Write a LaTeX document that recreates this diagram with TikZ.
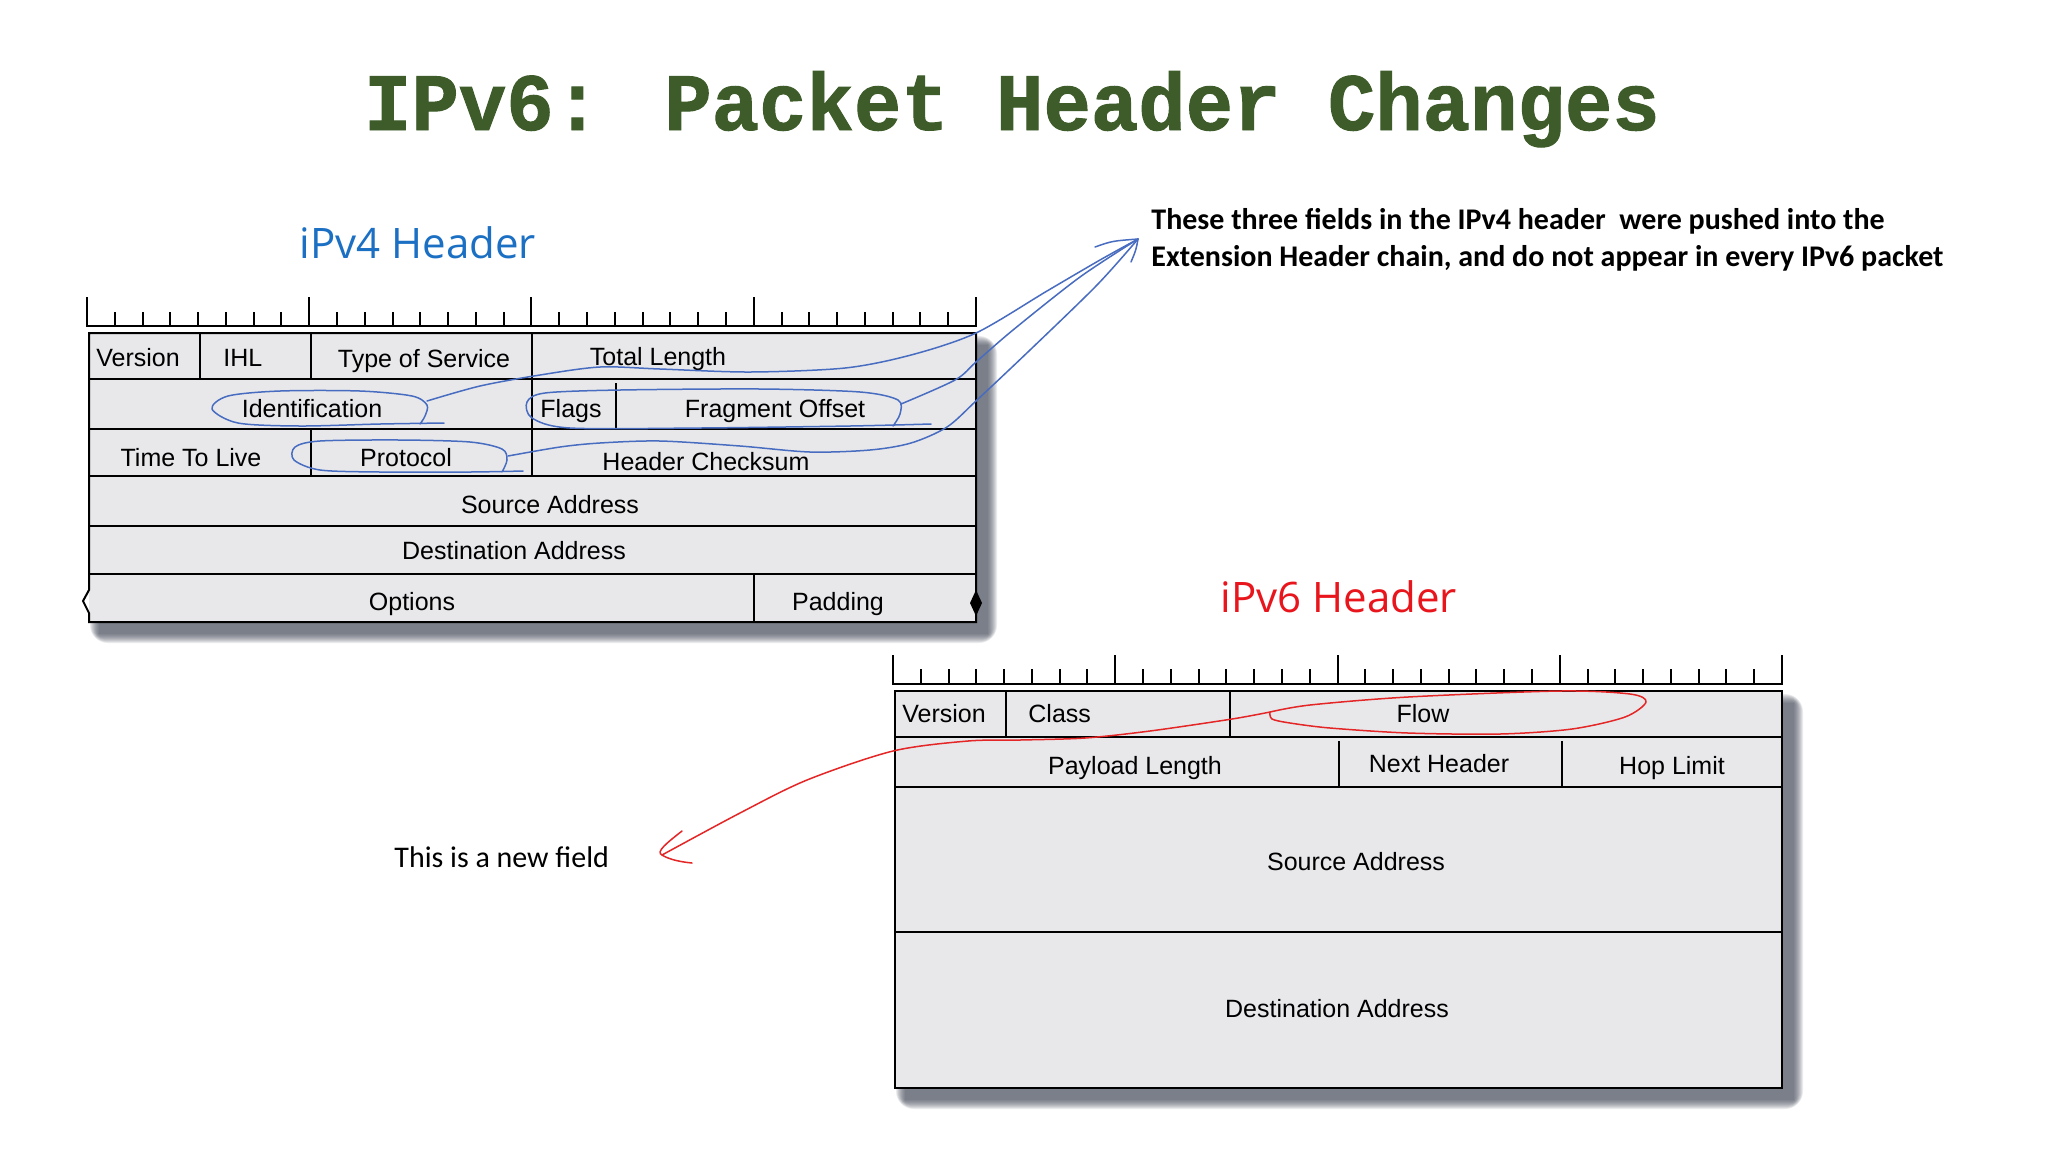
\documentclass[tikz,border=0pt]{standalone}
\usepackage{fontspec}
\setmainfont{Liberation Sans}
\newfontfamily\titlefont[FakeBold=1.2]{Liberation Mono}
\newfontfamily\calfont{Carlito}
\newfontfamily\handfont{Open Sans}
\definecolor{tblfill}{RGB}{232,232,235}
\definecolor{titlegreen}{RGB}{62,92,42}
\definecolor{penblue}{RGB}{72,108,192}
\definecolor{penred}{RGB}{228,38,38}
\definecolor{hblue}{RGB}{28,112,196}
\definecolor{hred}{RGB}{232,22,28}
\definecolor{shadowc}{RGB}{60,66,82}
\tikzset{
  tline/.style={draw=black, line width=1pt},
  rul/.style={draw=black, line width=1pt},
  fld/.style={font=\fontsize{12.5}{15}\selectfont, inner sep=0pt},
  bpen/.style={draw=penblue, line width=0.75pt, line cap=round, line join=round},
  rpen/.style={draw=penred, line width=0.75pt, line cap=round, line join=round},
  ann/.style={font=\calfont\bfseries\fontsize{15}{18}\selectfont, inner sep=0pt},
  hand/.style={font=\handfont\fontsize{21}{24}\selectfont, inner sep=0pt},
}
\begin{document}
\begin{tikzpicture}[x=0.5pt,y=-0.5pt]
\useasboundingbox (0,0) rectangle (2048,1152);
\fill[white] (0,0) rectangle (2048,1152);

% ---------- title ----------
\node[text=titlegreen, inner sep=0pt, anchor=base] (title) at (1012,130)
  {\scalebox{1}[1.03]{\titlefont\bfseries\fontsize{39.5}{40}\selectfont IPv6: Packet Header Changes}};

% ---------- hand labels ----------
\node[hand, text=hblue, anchor=base] (v4lab) at (418,258) {iPv4 Header};
\node[hand, text=hred, anchor=base] (v6lab) at (1339,612) {iPv6 Header};

% ---------- annotations ----------
\node[ann, anchor=base west] (ann1) at (1151,229) {These three fields in the IPv4 header\ \ were pushed into the};
\node[ann, anchor=base west] (ann2) at (1151,266) {Extension Header chain, and do not appear in every IPv6 packet};
\node[font=\calfont\fontsize{15}{18}\selectfont, inner sep=0pt, anchor=base west] (newf) at (394,867) {This is a new field};

% ---------- IPv4 ruler ----------
\draw[rul] (87,297) -- (87,326) -- (976,326) -- (976,297);
\foreach \i in {1,...,31} \draw[rul] ({87+\i*27.78},312) -- ++(0,14);
\foreach \i in {8,16,24} \draw[rul] ({87+\i*27.78},297) -- ++(0,29);

% ---------- IPv4 table ----------
\foreach \k in {0,...,9}
  \fill[shadowc, opacity=0.1, rounded corners=\k] ({99-\k},{345-\k}) rectangle ({988+\k},{634+\k});
\fill[tblfill] (89,333) rectangle (976,622);
\draw[tline] (89,333) -- (976,333) -- (976,622) -- (89,622) -- (89,613) -- (83,601) -- (89,590) -- cycle;
\foreach \yy in {379,429,476,526,574} \draw[tline] (89,\yy) -- (976,\yy);
\draw[tline] (200,333) -- (200,379);
\draw[tline] (311,333) -- (311,379);
\draw[tline] (532,333) -- (532,476);
\draw[tline] (616,383) -- (616,429);
\draw[tline] (311,429) -- (311,476);
\draw[tline] (754,574) -- (754,622);
\fill (976,590) -- (982,603) -- (976,616) -- (970,603) -- cycle;

\node[fld, anchor=base west] (v4ver) at (96,366) {Version};
\node[fld, anchor=base west] (v4ihl) at (223,366) {IHL};
\node[fld, anchor=base] (v4tos) at (424,367) {Type of Service};
\node[fld, anchor=base] (v4tl) at (658,365) {Total Length};
\node[fld, anchor=base] (v4id) at (312,417) {Identification};
\node[fld, anchor=base] (v4fl) at (571,417) {Flags};
\node[fld, anchor=base] (v4fo) at (775,417) {Fragment Offset};
\node[fld, anchor=base] (v4ttl) at (191,466) {Time To Live};
\node[fld, anchor=base] (v4pr) at (406,466) {Protocol};
\node[fld, anchor=base] (v4hc) at (706,470) {Header Checksum};
\node[fld, anchor=base] (v4sa) at (550,513) {Source Address};
\node[fld, anchor=base] (v4da) at (514,559) {Destination Address};
\node[fld, anchor=base] (v4op) at (412,610) {Options};
\node[fld, anchor=base] (v4pa) at (838,610) {Padding};

% ---------- IPv6 ruler ----------
\draw[rul] (893,655) -- (893,684) -- (1782,684) -- (1782,655);
\foreach \i in {1,...,31} \draw[rul] ({893+\i*27.78},669) -- ++(0,15);
\foreach \i in {8,16,24} \draw[rul] ({893+\i*27.78},655) -- ++(0,29);

% ---------- IPv6 table ----------
\foreach \k in {0,...,9}
  \fill[shadowc, opacity=0.1, rounded corners=\k] ({905-\k},{703-\k}) rectangle ({1794+\k},{1100+\k});
\fill[tblfill] (895,691) rectangle (1782,1088);
\draw[tline] (895,691) rectangle (1782,1088);
\foreach \yy in {737,787,932} \draw[tline] (895,\yy) -- (1782,\yy);
\draw[tline] (1006,691) -- (1006,737);
\draw[tline] (1230,691) -- (1230,737);
\draw[tline] (1339,741) -- (1339,787);
\draw[tline] (1562,741) -- (1562,787);

\node[fld, anchor=base west] (v6ver) at (902,722) {Version};
\node[fld, anchor=base west] (v6cl) at (1028,722) {Class};
\node[fld, anchor=base] (v6fl) at (1423,722) {Flow};
\node[fld, anchor=base] (v6pl) at (1135,774) {Payload Length};
\node[fld, anchor=base] (v6nh) at (1439,772) {Next Header};
\node[fld, anchor=base] (v6hl) at (1672,774) {Hop Limit};
\node[fld, anchor=base] (v6sa) at (1356,870) {Source Address};
\node[fld, anchor=base] (v6da) at (1337,1017) {Destination Address};

% ---------- blue lassos and connectors ----------
\coordinate (btip) at (1138,239);
\coordinate (idC) at (427,401);
\coordinate (foC) at (901,404);
\coordinate (prC) at (508,456);

\draw[bpen] plot[smooth] coordinates {(444,423) (380,424) (300,426) (238,423) (212,409) (228,396) (280,391) (360,391) (412,396) (427,405) (425,416) (420,424)};
\draw[bpen] plot[smooth] coordinates {(931,424) (850,426) (700,428) (570,428) (532,418) (527,402) (545,393) (620,390) (760,389) (860,392) (898,400) (900,414) (893,426)};
\draw[bpen] plot[smooth] coordinates {(523,471) (470,472) (380,472) (320,470) (294,460) (295,447) (320,441) (400,440) (470,442) (502,449) (507,460) (502,472)};

\draw[bpen] plot[smooth] coordinates {(idC) (480,386) (540,375) (600,367) (660,369) (750,372) (845,368) (911,355) (976,333) (1047,291) (1100,260) (btip)};
\draw[bpen] plot[smooth] coordinates {(foC) (955,380) (976,362) (1013,330) (1080,277) (btip)};
\draw[bpen] plot[smooth] coordinates {(prC) (560,447) (600,443) (660,441) (740,446) (810,452) (870,450) (911,443) (947,427) (977,400) (1030,350) (1097,285) (btip)};
\draw[bpen] (1095,247) .. controls (1112,241) .. (btip) .. controls (1136,250) .. (1131,262);

% ---------- red lasso and connector ----------
\coordinate (flC) at (1270,712);
\coordinate (rtip) at (662,855);
\draw[rpen] plot[smooth] coordinates {(flC) (1272,719) (1290,723) (1330,728) (1408,733) (1500,734) (1572,729) (1625,717) (1646,702) (1630,694) (1560,691) (1408,697) (1310,705) (flC)};
\draw[rpen] plot[smooth] coordinates {(flC) (1232,719) (1150,731) (1085,738) (1020,740) (968,741) (893,751) (807,780) (740,813) (rtip)};
\draw[rpen] (682,831) .. controls (668,842) and (655,852) .. (rtip) .. controls (670,860) and (682,862) .. (692,863);
\end{tikzpicture}
\end{document}
